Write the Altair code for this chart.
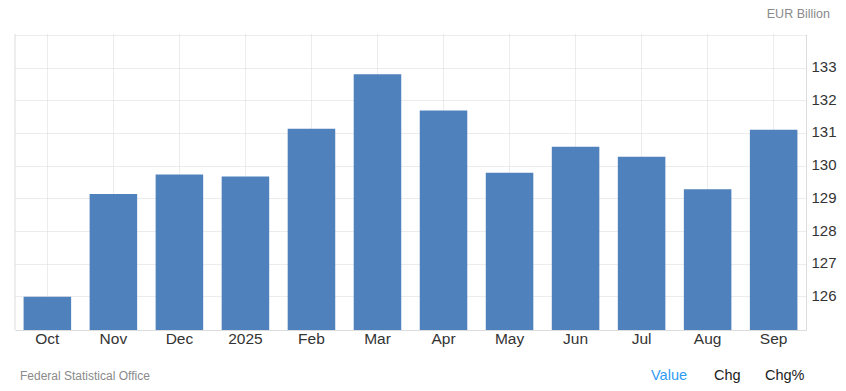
import altair as alt
import pandas as pd

months = ["Oct", "Nov", "Dec", "2025", "Feb", "Mar", "Apr", "May", "Jun", "Jul", "Aug", "Sep"]
values = [125.99, 129.13, 129.73, 129.67, 131.13, 132.80, 131.69, 129.78, 130.58, 130.27, 129.28, 131.10]
y_ticks = [126, 127, 128, 129, 130, 131, 132, 133, 134]
unit_label = ["EUR Billion"]
source_label = ["Federal Statistical Office"]
footer_tabs = ["Value", "Chg", "Chg%"]

FONT = "Liberation Sans"
W, H = 791, 296

df = pd.DataFrame({"month": months, "value": values})

bars = alt.Chart(df).mark_bar(color="#4f81bd", clip=True).encode(
    x=alt.X(
        "month:N",
        sort=months,
        title=None,
        scale=alt.Scale(paddingInner=0.28, paddingOuter=0.13),
        axis=alt.Axis(
            orient="bottom",
            bandPosition=0.5,
            grid=True,
            gridColor="#d9d9d9",
            gridDash=[1, 1],
            ticks=False,
            domainColor="#dcdcdc",
            labelFont=FONT,
            labelFontSize=15.5,
            labelColor="#333333",
            labelPadding=1,
            labelAngle=0,
        ),
    ),
    y=alt.Y(
        "value:Q",
        title=None,
        scale=alt.Scale(domain=[124.97, 134.03], nice=False, zero=False),
        axis=alt.Axis(
            orient="right",
            values=y_ticks,
            labelExpr="datum.value == 134 ? '' : datum.label",
            grid=True,
            gridColor="#d9d9d9",
            gridDash=[1, 1],
            ticks=False,
            domainColor="#dcdcdc",
            labelFont=FONT,
            labelFontSize=15,
            labelColor="#333333",
            labelPadding=5,
            labelBaseline="middle",
            labelOffset=-1,
        ),
    ),
)

left_line = alt.Chart(pd.DataFrame({"a": [0]})).mark_rule(color="#dcdcdc", strokeWidth=1).encode(
    x=alt.value(0), y=alt.value(0), y2=alt.value(H)
)

unit_txt = alt.Chart(pd.DataFrame({"t": unit_label})).mark_text(
    font=FONT, fontSize=12.5, color="#8a8a8a", align="right", baseline="middle"
).encode(text="t:N", x=alt.value(815), y=alt.value(-20))

source_txt = alt.Chart(pd.DataFrame({"t": source_label})).mark_text(
    font=FONT, fontSize=12, color="#8a8a8a", align="left", baseline="middle"
).encode(text="t:N", x=alt.value(5), y=alt.value(342))

tab_df = pd.DataFrame({"t": footer_tabs, "xpos": [636, 699, 750], "col": ["#2f9cf4", "#222222", "#222222"]})
tabs_txt = alt.Chart(tab_df).mark_text(
    font=FONT, fontSize=14.5, align="left", baseline="middle"
).encode(
    text="t:N",
    x=alt.X("xpos:Q", scale=None),
    y=alt.value(342),
    color=alt.Color("col:N", scale=None, legend=None),
)

chart = alt.layer(bars, left_line, unit_txt, source_txt, tabs_txt).properties(
    width=W,
    height=H,
    padding={"left": 15, "top": 34, "right": 40, "bottom": 61},
    autosize=alt.AutoSizeParams(type="none"),
    background="white",
).configure_view(stroke=None)

chart.save("out.html", embed_options={"renderer": "svg", "actions": False})
